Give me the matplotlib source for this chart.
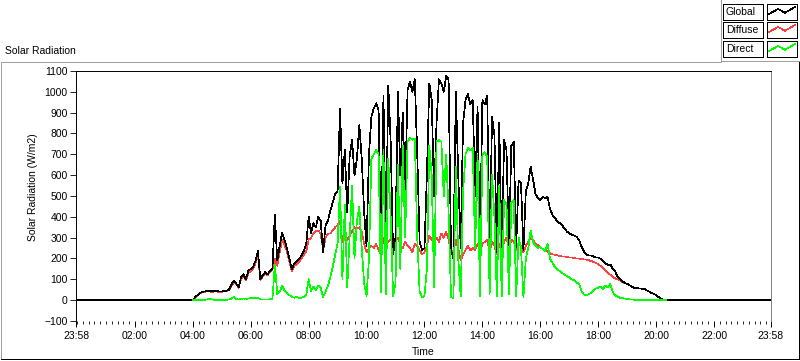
import numpy as np
import matplotlib.pyplot as plt
from matplotlib.patches import Rectangle
from matplotlib.lines import Line2D

plt.rcParams['font.family'] = ['Liberation Sans', 'DejaVu Sans']
plt.rcParams['font.size'] = 7.5

W, H = 800, 361

# samples every 5 minutes, 04:00 .. 20:20 (one row per hour)
day_start = 4.0
step_min = 5
night_start = -2 / 60.0      # 23:58 of the day before
night_end = 24 - 2 / 60.0    # 23:58

global_rad = [
    0, 15, 25, 35, 40, 42, 45, 43, 42, 44, 43, 42,
    42, 44, 46, 50, 75, 95, 80, 62, 110, 125, 100, 140,
    150, 160, 190, 235, 100, 120, 135, 125, 140, 150, 410, 190,
    260, 325, 290, 250, 200, 150, 175, 185, 195, 215, 235, 270,
    400, 320, 370, 350, 400, 380, 230, 360, 380, 430, 470, 510,
    520, 920, 560, 720, 420, 690, 770, 600, 680, 840, 680, 420,
    260, 700, 880, 920, 945, 910, 230, 980, 260, 1030, 760, 220,
    300, 1000, 600, 900, 520, 1010, 1050, 1000, 1060, 700, 280, 240,
    250, 600, 1040, 960, 500, 850, 1060, 1040, 1000, 1075, 1060, 240,
    200, 1000, 600, 250, 850, 960, 990, 940, 960, 500, 930, 250,
    960, 940, 980, 230, 880, 790, 230, 850, 200, 770, 720, 250,
    740, 760, 255, 575, 560, 240, 520, 560, 640, 580, 510, 490,
    480, 495, 490, 495, 440, 410, 395, 380, 370, 360, 345, 330,
    320, 315, 310, 305, 290, 260, 235, 220, 215, 215, 210, 205,
    205, 198, 190, 178, 168, 172, 150, 140, 112, 102, 92, 82,
    78, 72, 65, 58, 58, 56, 55, 55, 48, 42, 35, 30,
    24, 15, 8, 3, 0,
]

diffuse_rad = [
    0, 14, 24, 33, 38, 40, 42, 41, 40, 42, 41, 40,
    40, 42, 44, 47, 70, 85, 76, 60, 104, 115, 95, 130,
    140, 150, 178, 220, 96, 115, 130, 120, 135, 145, 200, 165,
    230, 290, 265, 235, 185, 140, 163, 172, 182, 200, 215, 235,
    290, 300, 320, 330, 335, 320, 240, 300, 320, 320, 335, 350,
    360, 380, 280, 300, 290, 310, 330, 350, 345, 350, 330, 270,
    230, 250, 260, 250, 270, 240, 220, 300, 270, 280, 290, 270,
    280, 300, 270, 250, 280, 260, 250, 230, 270, 260, 240, 220,
    230, 260, 310, 290, 270, 300, 280, 320, 300, 330, 290, 240,
    230, 290, 250, 190, 220, 240, 260, 240, 250, 240, 270, 230,
    270, 280, 290, 230, 280, 260, 220, 270, 230, 280, 300, 250,
    290, 280, 240, 270, 260, 230, 260, 280, 300, 290, 270, 265,
    255, 245, 240, 235, 225, 220, 218, 215, 212, 210, 210, 208,
    205, 205, 203, 200, 200, 198, 196, 195, 192, 188, 184, 180,
    172, 165, 155, 145, 132, 122, 112, 105, 100, 95, 88, 82,
    77, 72, 65, 58, 57, 56, 55, 54, 48, 42, 35, 30,
    24, 15, 8, 3, 0,
]

direct_rad = [
    0, 1, 1, 2, 2, 2, 3, 6, 3, 2, 2, 2,
    2, 2, 2, 3, 8, 15, 5, 3, 6, 8, 5, 8,
    10, 8, 10, 12, 3, 3, 3, 3, 4, 5, 170, 30,
    40, 70, 45, 35, 25, 15, 12, 15, 12, 12, 15, 25,
    100, 45, 65, 50, 70, 60, 15, 40, 70, 110, 160, 220,
    270, 545, 100, 460, 60, 300, 550, 200, 380, 450, 250, 80,
    20, 200, 680, 700, 720, 700, 40, 720, 30, 680, 400, 20,
    80, 650, 150, 740, 300, 760, 780, 770, 775, 300, 40, 15,
    20, 150, 740, 600, 60, 760, 770, 760, 500, 700, 420, 15,
    10, 640, 200, 20, 520, 700, 730, 720, 730, 250, 700, 20,
    700, 710, 690, 30, 600, 400, 20, 550, 20, 480, 460, 30,
    470, 480, 20, 300, 250, 15, 200, 250, 335, 280, 260, 250,
    255, 245, 235, 270, 200, 180, 160, 150, 140, 130, 125, 115,
    110, 100, 95, 85, 80, 45, 28, 25, 28, 35, 45, 55,
    60, 65, 55, 70, 62, 78, 40, 24, 18, 12, 10, 8,
    6, 4, 3, 2, 1, 1, 0, 0, 0, 0, 0, 0,
    0, 0, 0, 0, 0,
]

series_names = ['Global', 'Diffuse', 'Direct']
series_colors = ['#000000', '#ff4040', '#00ff00']

x_tick_hours = [night_start, 2, 4, 6, 8, 10, 12, 14, 16, 18, 20, 22, night_end]
x_tick_labels = ['23:58', '02:00', '04:00', '06:00', '08:00', '10:00', '12:00',
                 '14:00', '16:00', '18:00', '20:00', '22:00', '23:58']
y_ticks = list(range(-100, 1101, 100))

LW = 0.5


def fx(x):
    return x / W


def fy(y):
    return 1 - y / H


def hline(fig, x0, x1, y, color):
    fig.add_artist(Line2D([fx(x0), fx(x1)], [fy(y), fy(y)], color=color, lw=LW,
                          antialiased=False, transform=fig.transFigure))


def vline(fig, x, y0, y1, color):
    fig.add_artist(Line2D([fx(x), fx(x)], [fy(y0), fy(y1)], color=color, lw=LW,
                          antialiased=False, transform=fig.transFigure))


fig = plt.figure(figsize=(W / 100, H / 100), dpi=100)
ax = fig.add_axes([fx(76), fy(321), fx(771 - 76), (321 - 71) / H])

t = day_start + np.arange(len(global_rad)) * step_min / 60.0
t_full = np.concatenate([[night_start], t, [night_end]])
g_full = np.concatenate([[0], global_rad, [0]])

ax.plot(t, diffuse_rad, color=series_colors[1], lw=LW, antialiased=False, zorder=2)
ax.plot(t_full, g_full, color=series_colors[0], lw=LW, antialiased=False, zorder=3)
ax.plot(t, direct_rad, color=series_colors[2], lw=LW, antialiased=False, zorder=4)

ax.set_xlim(night_start, night_end)
ax.set_ylim(-100, 1100)
ax.set_xticks(x_tick_hours)
ax.set_xticklabels(x_tick_labels)
ax.set_xticks(np.arange(0, 24, 0.2), minor=True)
ax.set_yticks(y_ticks)
ax.tick_params(axis='x', which='major', length=4, width=0.7, pad=3, colors='black')
ax.tick_params(axis='x', which='minor', length=2.5, width=0.6, colors='black')
ax.tick_params(axis='y', which='major', length=4, width=0.6, pad=2, colors='black')

ax.spines['bottom'].set_visible(False)
ax.spines['top'].set_color('black')
ax.spines['left'].set_color('black')
ax.spines['right'].set_color('#808080')
for s in ax.spines.values():
    s.set_linewidth(0.7)

fig.text(fx(5), fy(51), 'Solar Radiation', va='center', ha='left')
fig.text(fx(33), fy(187), 'Solar Radiation (W/m2)', rotation=90, va='center', ha='center')
fig.text(fx(423), fy(352), 'Time', va='center', ha='center')

# outer frame
hline(fig, 1, 721, 62, '#a0a0a0')
vline(fig, 1, 62, 359, '#a0a0a0')
hline(fig, 1, 799, 359, 'black')
vline(fig, 799, 62, 359, 'black')

# legend
vline(fig, 721, 0, 61, '#a0a0a0')
hline(fig, 721, 800, 61, '#a0a0a0')
row_tops = [4, 22, 41]
zig_x = [769, 778, 785, 795]
zig_y = [10, 5, 8.7, 3]
for top, name, col in zip(row_tops, series_names, series_colors):
    fig.add_artist(Rectangle((fx(723), fy(top + 16)), fx(40), 16 / H, fill=False,
                             edgecolor='black', lw=LW, antialiased=False,
                             transform=fig.transFigure))
    fig.add_artist(Rectangle((fx(767), fy(top + 16)), fx(30), 16 / H, fill=False,
                             edgecolor='black', lw=LW, antialiased=False,
                             transform=fig.transFigure))
    fig.text(fx(726), fy(top + 8), name, va='center', ha='left')
    fig.add_artist(Line2D([fx(x) for x in zig_x], [fy(top + y) for y in zig_y],
                          color=col, lw=LW, antialiased=False,
                          transform=fig.transFigure))

fig.savefig('out.png', dpi=100)
